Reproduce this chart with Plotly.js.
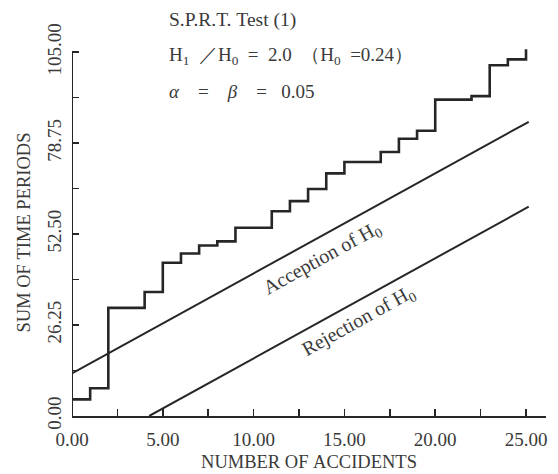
<!DOCTYPE html>
<html>
<head>
<meta charset="utf-8">
<script src="https://cdn.plot.ly/plotly-3.0.1.min.js"></script>
<style>html,body{margin:0;padding:0;background:#fff;}#chart{width:558px;height:474px;}</style>
</head>
<body>
<div id="chart"></div>
<script>
// Step data: cumulative sum of time periods by number of accidents
const accidents = [0,1,2,3,4,5,6,7,8,9,10,11,12,13,14,15,16,17,18,19,20,21,22,23,24,25];
const sumTimePeriods = [4.8,8.0,31.2,31.2,35.8,44.2,46.9,49.2,50.4,54.3,54.3,59.1,62.0,65.5,70.0,73.3,73.3,76.2,80.0,82.3,91.3,91.3,92.3,101.2,102.9,105.8];
// Decision boundary lines (end points)
const acceptX = [0, 25.15];
const acceptY = [12.27, 84.9];
const rejectX = [4.25, 25.15];
const rejectY = [0, 60.4];
// Tick labels
const xTickVals = [0,2.5,5,7.5,10,12.5,15,17.5,20,22.5,25];
const xTickText = ['0.00','','5.00','','10.00','','15.00','','20.00','','25.00'];
const yTickVals = [0,13.125,26.25,39.375,52.5,65.625,78.75,91.875,105];
const yTickText = ['0.00','','26.25','','52.50','','78.75','','105.00'];

const ink = '#262626';
const txt = '#3a3a3a';
const FONT = 'Liberation Serif, DejaVu Serif, serif';
const nb = '\u00A0';

const traces = [
  {x: accidents, y: sumTimePeriods, mode: 'lines', line: {shape: 'hv', color: ink, width: 2.6}, hoverinfo: 'skip'},
  {x: acceptX, y: acceptY, mode: 'lines', line: {color: ink, width: 2}, hoverinfo: 'skip'},
  {x: rejectX, y: rejectY, mode: 'lines', line: {color: ink, width: 2}, hoverinfo: 'skip'}
];

const layout = {
  width: 558, height: 474,
  margin: {l: 72, r: 12, t: 48.5, b: 58},
  paper_bgcolor: '#ffffff', plot_bgcolor: '#ffffff',
  showlegend: false,
  font: {family: FONT, color: txt, size: 18},
  xaxis: {
    range: [0, 26.1], showgrid: false, zeroline: false,
    showline: true, linecolor: ink, linewidth: 2,
    tickmode: 'array', tickvals: xTickVals, ticktext: xTickText,
    ticks: 'inside', ticklen: 7, tickwidth: 1.5, tickcolor: ink,
    tickfont: {family: FONT, size: 19, color: txt},
    ticklabelstandoff: 5,
    title: {text: 'NUMBER' + nb + 'OF' + nb + 'ACCIDENTS', font: {family: FONT, size: 18.5, color: txt}, standoff: 6}
  },
  yaxis: {
    range: [0, 105.9], showgrid: false, zeroline: false, showline: false,
    tickmode: 'array', tickvals: yTickVals, ticktext: yTickText,
    ticks: 'inside', ticklen: 7, tickwidth: 1.5, tickcolor: ink,
    tickangle: -90,
    tickfont: {family: FONT, size: 19, color: txt},
    ticklabelstandoff: 6,
    title: {text: 'SUM' + nb + 'OF' + nb + 'TIME' + nb + 'PERIODS', font: {family: FONT, size: 18.5, color: txt}, standoff: 8}
  },
  shapes: [
    {type: 'line', xref: 'x', yref: 'y', x0: 0, x1: 0, y0: 0, y1: 105, line: {color: ink, width: 2}}
  ],
  annotations: [
    {xref: 'paper', yref: 'paper', x: 0.2, y: 1.080, xanchor: 'left', yanchor: 'middle', showarrow: false,
     text: 'S.P.R.T.' + nb + 'Test' + nb + '(1)', font: {family: FONT, size: 19.5, color: txt}},
    {xref: 'paper', yref: 'paper', x: 0.2, y: 0.982, xanchor: 'left', yanchor: 'middle', showarrow: false,
     text: 'H<sub>1</sub>' + nb+nb + '／H<sub>0</sub>' + nb+nb + '=' + nb+nb + '2.0' + nb+nb + '（H<sub>0</sub>' + nb+nb + '=0.24）',
     font: {family: FONT, size: 19, color: txt}},
    {xref: 'paper', yref: 'paper', x: 0.2, y: 0.884, xanchor: 'left', yanchor: 'middle', showarrow: false,
     text: '<i>α</i>' + nb+nb+nb+nb + '=' + nb+nb+nb+nb + '<i>β</i>' + nb+nb+nb+nb + '=' + nb+nb+nb + '0.05',
     font: {family: FONT, size: 19, color: txt}},
    {xref: 'x', yref: 'y', x: 13.78, y: 45.5, showarrow: false, textangle: -29,
     text: 'Acception' + nb + 'of' + nb + 'H<sub>0</sub>', font: {family: FONT, size: 20, color: txt}},
    {xref: 'x', yref: 'y', x: 15.76, y: 27.4, showarrow: false, textangle: -29,
     text: 'Rejection' + nb + 'of' + nb + 'H<sub>0</sub>', font: {family: FONT, size: 20, color: txt}}
  ]
};

Plotly.newPlot('chart', traces, layout, {displayModeBar: false, staticPlot: true});
</script>
</body>
</html>
